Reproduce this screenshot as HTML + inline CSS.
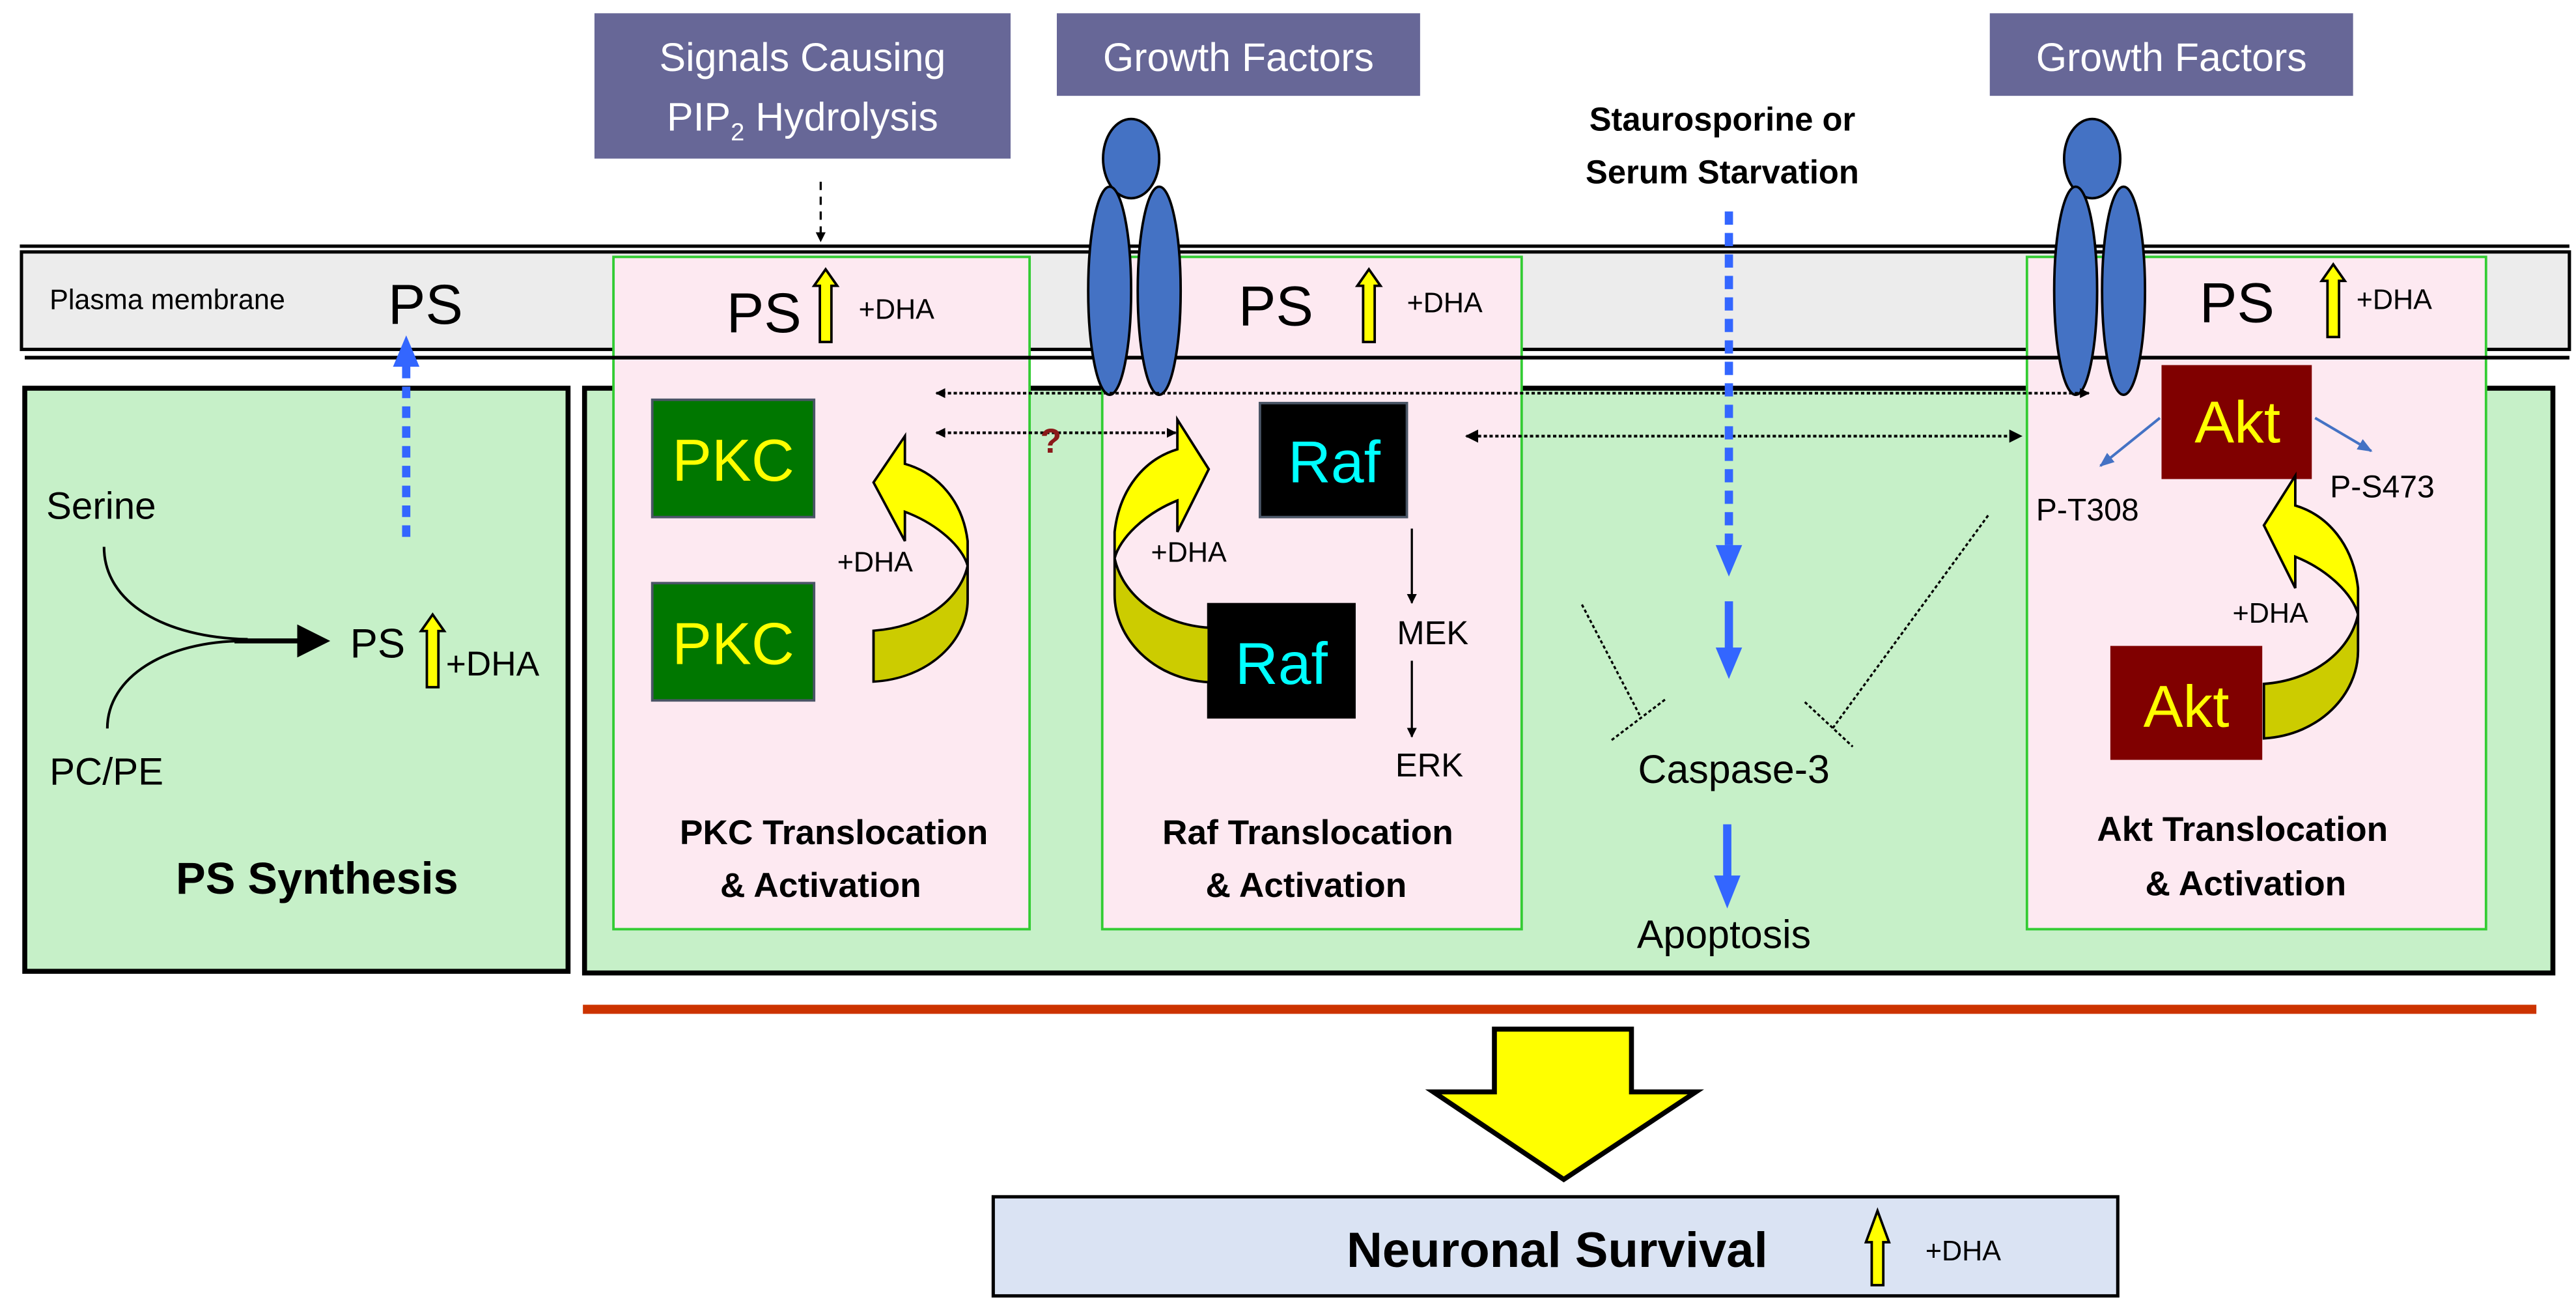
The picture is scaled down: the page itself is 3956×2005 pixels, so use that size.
<!DOCTYPE html>
<html><head><meta charset="utf-8"><style>
html,body{margin:0;padding:0;background:#fff;}
svg{display:block;}
text{font-family:"Liberation Sans",sans-serif;}
</style></head><body>
<svg width="3956" height="2005" viewBox="0 0 1560 790.6" xmlns="http://www.w3.org/2000/svg">
<defs>
<marker id="ah" viewBox="0 0 10 10" refX="9" refY="5" markerWidth="6" markerHeight="6" orient="auto-start-reverse" markerUnits="userSpaceOnUse"><path d="M0,0L10,5L0,10Z" fill="#000"/></marker>
<marker id="ah2" viewBox="0 0 10 10" refX="9" refY="5" markerWidth="8" markerHeight="8" orient="auto-start-reverse" markerUnits="userSpaceOnUse"><path d="M0,0L10,5L0,10Z" fill="#000"/></marker>
<marker id="sbh" viewBox="0 0 10 10" refX="9" refY="5" markerWidth="9" markerHeight="9" orient="auto" markerUnits="userSpaceOnUse"><path d="M0,1L10,5L0,9Z" fill="#4472c4"/></marker>
<linearGradient id="ga" gradientUnits="userSpaceOnUse" x1="0" y1="288" x2="0" y2="447"><stop offset="0.53" stop-color="#ffff00"/><stop offset="0.53" stop-color="#cccc00"/></linearGradient>
<g id="curv"><path d="M1390,288 L1371,318 L1390,356 L1390,337 C1410,345 1425,360 1428,372 C1423,395 1400,412 1371,414 L1371,447 C1405,445 1428,420 1428,394 L1428,356 C1425,330 1410,312 1390,306 Z" fill="url(#ga)" stroke="#000" stroke-width="1.5"/></g>
<g id="up"><path d="M0,0 L7,10 L3.5,10 L3.5,44 L-3.5,44 L-3.5,10 L-7,10 Z" fill="#ffff00" stroke="#000" stroke-width="1.5"/></g>
</defs>

<rect x="360" y="8" width="252" height="88" fill="#676797"/>
<text x="486" y="43" font-size="24" fill="#fff" text-anchor="middle">Signals Causing</text>
<text x="486" y="79" font-size="24" fill="#fff" text-anchor="middle">PIP<tspan font-size="15" dy="6">2</tspan><tspan dy="-6"> Hydrolysis</tspan></text>
<rect x="640" y="8" width="220" height="50" fill="#676797"/>
<text x="750" y="43" font-size="24" fill="#fff" text-anchor="middle">Growth Factors</text>
<rect x="1205" y="8" width="220" height="50" fill="#676797"/>
<text x="1315" y="43" font-size="24" fill="#fff" text-anchor="middle">Growth Factors</text>
<text x="1043" y="79" font-size="20" font-weight="bold" text-anchor="middle">Staurosporine or</text>
<text x="1043" y="111" font-size="20" font-weight="bold" text-anchor="middle">Serum Starvation</text>
<line x1="497" y1="110" x2="497" y2="146" stroke="#000" stroke-width="1.3" stroke-dasharray="5,4" marker-end="url(#ah)"/>

<line x1="12" y1="149" x2="1556" y2="149" stroke="#000" stroke-width="2"/>
<rect x="13" y="152.5" width="1543" height="59" fill="#ececec" stroke="#000" stroke-width="2"/>
<text x="30" y="187" font-size="17">Plasma membrane</text>
<text x="235" y="196" font-size="34">PS</text>

<rect x="15" y="235" width="329" height="353" fill="#c6f0c8" stroke="#000" stroke-width="3"/>
<rect x="354" y="235" width="1192" height="354" fill="#c6f0c8" stroke="#000" stroke-width="3"/>

<rect x="371.5" y="155.5" width="252" height="407" fill="#fde9f1" stroke="#33cc33" stroke-width="1.5"/>
<rect x="667.5" y="155.5" width="254" height="407" fill="#fde9f1" stroke="#33cc33" stroke-width="1.5"/>
<rect x="1227.5" y="155.5" width="278" height="407" fill="#fde9f1" stroke="#33cc33" stroke-width="1.5"/>
<line x1="15" y1="216.5" x2="1556" y2="216.5" stroke="#000" stroke-width="2.2"/>

<g fill="#4472c4" stroke="#000" stroke-width="1.5">
<ellipse cx="685" cy="96" rx="17" ry="24"/>
<ellipse cx="672" cy="176" rx="13" ry="63"/>
<ellipse cx="702" cy="176" rx="13" ry="63"/>
<ellipse cx="1267" cy="96" rx="17" ry="24"/>
<ellipse cx="1257" cy="176" rx="13" ry="63"/>
<ellipse cx="1286" cy="176" rx="13" ry="63"/>
</g>

<text x="440" y="201" font-size="34">PS</text><use href="#up" x="500" y="163"/><text x="520" y="193" font-size="17">+DHA</text>
<text x="750" y="197" font-size="34">PS</text><use href="#up" x="829" y="163"/><text x="852" y="189" font-size="17">+DHA</text>
<text x="1332" y="195" font-size="34">PS</text><use href="#up" x="1413" y="160"/><text x="1427" y="187" font-size="17">+DHA</text>

<text x="28" y="314" font-size="23">Serine</text>
<text x="30" y="475" font-size="23">PC/PE</text>
<path d="M63,331 C63,365 100,386 150,387" fill="none" stroke="#000" stroke-width="1.6"/>
<path d="M65,441 C65,410 100,388 148,388" fill="none" stroke="#000" stroke-width="1.6"/>
<line x1="142" y1="388" x2="184" y2="388" stroke="#000" stroke-width="3"/>
<path d="M180,378 L200,388 L180,398 Z" fill="#000"/>
<text x="212" y="398" font-size="25">PS</text>
<use href="#up" x="262" y="372"/>
<text x="270" y="409" font-size="21">+DHA</text>
<line x1="246" y1="325" x2="246" y2="218" stroke="#3366ff" stroke-width="5" stroke-dasharray="7,5"/>
<path d="M238,222 L246,203 L254,222 Z" fill="#3366ff"/>
<text x="192" y="541" font-size="27" font-weight="bold" text-anchor="middle">PS Synthesis</text>

<rect x="395" y="242" width="98" height="71" fill="#007700" stroke="#4a5566" stroke-width="1.5"/>
<text x="444" y="291" font-size="36" fill="#ffff00" text-anchor="middle">PKC</text>
<rect x="395" y="353" width="98" height="71" fill="#007700" stroke="#4a5566" stroke-width="1.5"/>
<text x="444" y="402" font-size="36" fill="#ffff00" text-anchor="middle">PKC</text>
<use href="#curv" transform="translate(-842,-24) scale(1,0.935) translate(0,20)"/>
<text x="507" y="346" font-size="17">+DHA</text>
<text x="505" y="511" font-size="21" font-weight="bold" text-anchor="middle">PKC Translocation</text>
<text x="497" y="543" font-size="21" font-weight="bold" text-anchor="middle">&amp; Activation</text>

<line x1="567" y1="238" x2="1265" y2="238" stroke="#000" stroke-width="1.6" stroke-dasharray="2,1.5" marker-start="url(#ah)" marker-end="url(#ah)"/>
<line x1="567" y1="262" x2="712" y2="262" stroke="#000" stroke-width="1.6" stroke-dasharray="2,1.5" marker-start="url(#ah)" marker-end="url(#ah)"/>
<text x="630" y="274" font-size="21" font-weight="bold" fill="#8b1a1a">?</text>
<line x1="888" y1="264" x2="1224" y2="264" stroke="#000" stroke-width="1.6" stroke-dasharray="2,1.5" marker-start="url(#ah2)" marker-end="url(#ah2)"/>

<rect x="763" y="244" width="89" height="69" fill="#000" stroke="#4a5566" stroke-width="1.5"/>
<text x="808" y="292" font-size="36" fill="#00ffff" text-anchor="middle">Raf</text>
<rect x="731" y="365" width="90" height="70" fill="#000"/>
<text x="776" y="414" font-size="36" fill="#00ffff" text-anchor="middle">Raf</text>
<use href="#curv" transform="translate(2103,-34) scale(-1,1)"/>
<text x="697" y="340" font-size="17">+DHA</text>
<line x1="855" y1="320" x2="855" y2="365" stroke="#000" stroke-width="1.3" marker-end="url(#ah)"/>
<text x="846" y="390" font-size="20">MEK</text>
<line x1="855" y1="400" x2="855" y2="446" stroke="#000" stroke-width="1.3" marker-end="url(#ah)"/>
<text x="845" y="470" font-size="20">ERK</text>
<text x="792" y="511" font-size="21" font-weight="bold" text-anchor="middle">Raf Translocation</text>
<text x="791" y="543" font-size="21" font-weight="bold" text-anchor="middle">&amp; Activation</text>

<line x1="1047" y1="128" x2="1047" y2="330" stroke="#3366ff" stroke-width="5" stroke-dasharray="8,5"/>
<path d="M1039,330 L1047,349 L1055,330 Z" fill="#3366ff"/>
<line x1="1047" y1="364" x2="1047" y2="394" stroke="#3366ff" stroke-width="5"/>
<path d="M1039,392 L1047,411 L1055,392 Z" fill="#3366ff"/>
<line x1="1046" y1="499" x2="1046" y2="532" stroke="#3366ff" stroke-width="5"/>
<path d="M1038,530 L1046,550 L1054,530 Z" fill="#3366ff"/>
<text x="1050" y="474" font-size="24" text-anchor="middle">Caspase-3</text>
<text x="1044" y="574" font-size="24" text-anchor="middle">Apoptosis</text>
<path d="M958,366 L993,433" stroke="#000" stroke-width="1.3" stroke-dasharray="2,1.5" fill="none"/>
<path d="M976,448 L1009,423" stroke="#000" stroke-width="1.3" stroke-dasharray="2,1.5" fill="none"/>
<path d="M1204,312 L1109,442" stroke="#000" stroke-width="1.3" stroke-dasharray="2,1.5" fill="none"/>
<path d="M1093,425 L1122,452" stroke="#000" stroke-width="1.3" stroke-dasharray="2,1.5" fill="none"/>

<rect x="1309" y="221" width="91" height="69" fill="#800000"/>
<text x="1355" y="268" font-size="36" fill="#ffff00" text-anchor="middle">Akt</text>
<rect x="1278" y="391" width="92" height="69" fill="#800000"/>
<text x="1324" y="440" font-size="36" fill="#ffff00" text-anchor="middle">Akt</text>
<line x1="1308" y1="253" x2="1272" y2="282" stroke="#4472c4" stroke-width="1.6" marker-end="url(#sbh)"/>
<line x1="1402" y1="253" x2="1436" y2="273" stroke="#4472c4" stroke-width="1.6" marker-end="url(#sbh)"/>
<text x="1233" y="315" font-size="19">P-T308</text>
<text x="1411" y="301" font-size="19">P-S473</text>
<use href="#curv"/>
<text x="1352" y="377" font-size="17">+DHA</text>
<text x="1358" y="509" font-size="21" font-weight="bold" text-anchor="middle">Akt Translocation</text>
<text x="1360" y="542" font-size="21" font-weight="bold" text-anchor="middle">&amp; Activation</text>

<line x1="353" y1="611" x2="1536" y2="611" stroke="#cc3300" stroke-width="5.5"/>
<path d="M905,623 L988,623 L988,661 L1027,661 L947,714 L868,661 L905,661 Z" fill="#ffff00" stroke="#000" stroke-width="3"/>
<rect x="601.5" y="724.5" width="681" height="60" fill="#dae3f3" stroke="#000" stroke-width="2"/>
<text x="943" y="767" font-size="30" font-weight="bold" text-anchor="middle">Neuronal Survival</text>
<path d="M1137,733 L1144,752 L1140.5,752 L1140.5,778 L1133.5,778 L1133.5,752 L1130,752 Z" fill="#ffff00" stroke="#000" stroke-width="1.5"/>
<text x="1166" y="763" font-size="17">+DHA</text>
</svg>
</body></html>
